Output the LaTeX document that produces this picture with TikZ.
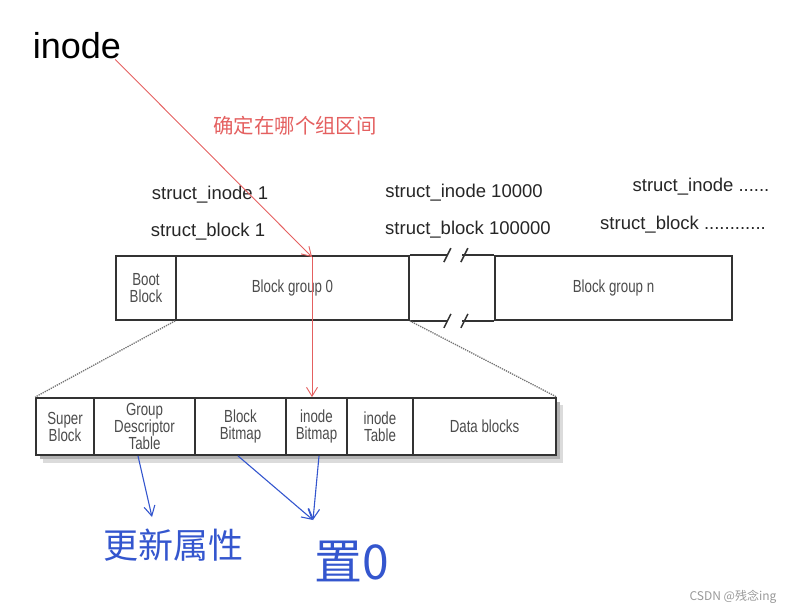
\documentclass[tikz,border=0pt]{standalone}
\usepackage{fontspec}
\setmainfont{Liberation Sans}
\newfontfamily\cjk{Noto Sans CJK SC}
\newfontfamily\narrow[FakeStretch=0.76]{Liberation Sans}
\usepackage{tikz}
\usetikzlibrary{positioning, arrows.meta}

\definecolor{redline}{RGB}{228,96,96}
\definecolor{blueline}{RGB}{52,86,206}

\tikzset{
    cell/.style={rectangle, draw=black!80, line width=1.8pt, inner sep=0pt,
        align=center, font=\narrow\fontsize{17.5}{17}\selectfont, text=black!70},
    lbl/.style={font=\fontsize{18.5}{20}\selectfont, text=black!85},
    redarrow/.style={-{Straight Barb[length=9pt, width=11pt]}, draw=redline, line width=0.9pt},
    bluearrow/.style={-{Straight Barb[length=10pt, width=11pt]}, draw=blueline, line width=1.1pt},
    zoomline/.style={densely dotted, draw=black!55, line width=1.3pt}
}

\begin{document}
\begin{tikzpicture}[x=1pt, y=-1pt]
        \useasboundingbox (0,0) rectangle (794,611);

        % titles
        \node[inner sep=0pt, font=\fontsize{36}{40}\selectfont] (inode) at (77,46) {inode};
        \node[inner sep=0pt, text=redline, font=\cjk\fontsize{20.4}{22}\selectfont] (find) at (295,126) {确定在哪个组区间};

        % struct labels
        \node[lbl] (si1) at (210,195) {struct\_inode 1};
        \node[lbl] (sb1) at (208,232) {struct\_block 1};
        \node[lbl] (si2) at (464,193) {struct\_inode 10000};
        \node[lbl] (sb2) at (468,230) {struct\_block 100000};
        \node[lbl] (si3) at (701,187) {struct\_inode ......};
        \node[lbl] (sb3) at (683,225) {struct\_block ............};

        % disk (upper row)
        \node[cell, minimum width=60, minimum height=64] (boot) at (146,288) {Boot\\Block};
        \node[cell, minimum width=233, minimum height=64] (bg0) at (292.5,288) {Block group 0};
        \node[cell, minimum width=237, minimum height=64] (bgn) at (613.5,288) {Block group n};
        \draw[line width=1.8pt, black!80] (bg0.north east) -- ++(38,0);
        \draw[line width=1.8pt, black!80] (bgn.north west) -- ++(-32,0);
        \draw[line width=1.8pt, black!80] (bg0.south east) -- ++(38,0);
        \draw[line width=1.8pt, black!80] (bgn.south west) -- ++(-32,0);
        \draw[line width=1.5pt, black!80] (bg0.north east) ++(34,7) -- ++(7,-14);
        \draw[line width=1.5pt, black!80] (bg0.north east) ++(51,7) -- ++(7,-14);
        \draw[line width=1.5pt, black!80] (bg0.south east) ++(34,7) -- ++(7,-14);
        \draw[line width=1.5pt, black!80] (bg0.south east) ++(51,7) -- ++(7,-14);

        % block group 0 (lower row)
        \fill[black!14] (43,405) rectangle (563,463);
        \fill[black!30] (40,402) rectangle (560,459);
        \node[cell, fill=white, minimum width=58, minimum height=57] (sup) at (65,426.5) {Super\\Block};
        \node[cell, fill=white, minimum width=101, minimum height=57] (gdt) at (144.5,426.5) {Group\\Descriptor\\Table};
        \node[cell, fill=white, minimum width=91, minimum height=57] (bbm) at (240.5,426.5) {Block\\Bitmap};
        \node[cell, fill=white, minimum width=61, minimum height=57] (ibm) at (316.5,426.5) {inode\\Bitmap};
        \node[cell, fill=white, minimum width=66, minimum height=57] (itab) at (380,426.5) {inode\\Table};
        \node[cell, fill=white, minimum width=143, minimum height=57] (data) at (484.5,426.5) {Data blocks};
        \draw[zoomline] (bg0.south west) -- (sup.north west);
        \draw[zoomline] (bg0.south east) -- (data.north east);

        % results
        \node[inner sep=0pt, text=blueline, font=\cjk\fontsize{35}{38}\selectfont] (upd) at (173,545) {更新属性};
        \node[inner sep=0pt, text=blueline, font=\cjk\fontsize{48}{50}\selectfont] (zero) at (352,561) {置0};
        \node[inner sep=0pt, text=black!40, font=\cjk\fontsize{12}{13}\selectfont] (mark) at (733,597) {CSDN @残念ing};

        % arrows
        \coordinate (hit) at (312,257);
        \coordinate (updtip) at (152,517);
        \coordinate (zerotip) at (313,520);
        \draw[redarrow] ([xshift=-6pt]inode.south east) -- (hit);
        \draw[redarrow] (hit) -- (hit |- ibm.north);
        \draw[bluearrow] ([xshift=-6.5pt]gdt.south) -- (updtip);
        \draw[bluearrow] ([xshift=-2.5pt]bbm.south) -- (zerotip);
        \draw[bluearrow] ([xshift=2.5pt]ibm.south) -- (zerotip);
\end{tikzpicture}
\end{document}
